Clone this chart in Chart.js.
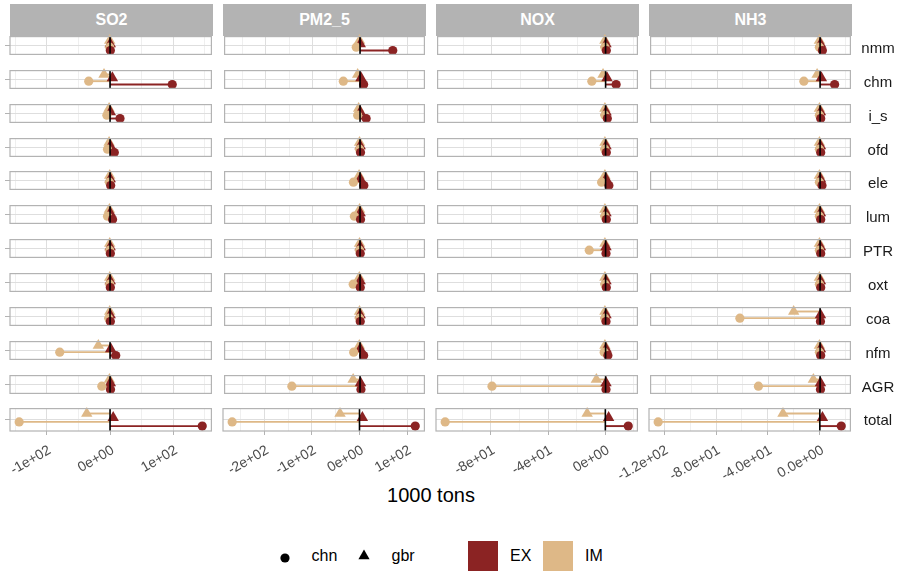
<!DOCTYPE html>
<html lang="en">
<head>
<meta charset="UTF-8">
<title>Emissions embodied in trade by sector</title>
<script src="https://cdn.jsdelivr.net/npm/chart.js"></script>
<style>
  body { margin: 0; background: #fff; font-family: 'Liberation Sans', Arial, sans-serif; }
  #fig { position: relative; width: 902px; height: 572px; overflow: hidden; }
  #fig canvas { position: absolute; }
  .strip { position: absolute; top: 4px; height: 32px; width: 203px; background: #b3b3b3; color: #fff;
           font-weight: bold; font-size: 16px; display: flex; align-items: center; justify-content: center; }
  .rowlab { position: absolute; left: 854px; width: 48px; text-align: center; font-size: 15px;
            color: #1a1a1a; line-height: 23px; }
  .xtitle { position: absolute; left: 10px; width: 842px; top: 484px; text-align: center; font-size: 20px; color: #000; }
  .lg { position: absolute; font-size: 16px; color: #000; line-height: 20px; top: 546px; }
  .key { position: absolute; }
</style>
</head>
<body>
<div id="fig"></div>
<script>
// categories
const pollutants = ['SO2', 'PM2_5', 'NOX', 'NH3'];
const sectors = ['nmm', 'chm', 'i_s', 'ofd', 'ele', 'lum', 'PTR', 'oxt', 'coa', 'nfm', 'AGR', 'total'];

// values in 1000 tons, one per sector (same order as sectors)
const so2ChnEX = [0.5, 98.4, 15.8, 6.8, 1, 4, 0.5, 0.5, 0.5, 9, 0.7, 145.8];
const so2ChnIM = [-0.5, -33.7, -5, -4, -1, -4, -0.5, -0.5, -2, -79.5, -13, -143.7];
const so2GbrEX = [0.3, 3.7, 0.5, 0.5, 0.3, 0.3, 0.2, 0.3, 0.2, 1, 0.5, 5];
const so2GbrIM = [-0.5, -9.5, -1.5, -1.5, -0.5, -1, -0.5, -0.5, -0.5, -18.5, -1, -36.8];

const pm25ChnEX = [69.4, 7.6, 13, 1, 8, 1, 0.5, 0.5, 0.5, 7.6, 2, 117.3];
const pm25ChnIM = [-8, -35.4, -5, -1, -14, -12, -1, -14.5, -1, -13.5, -144.6, -268];
const pm25GbrEX = [0.5, 2, 0.5, 0.3, 0.5, 0.3, 0.3, 0.3, 0.3, 0.5, 1, 6];
const pm25GbrIM = [-1, -5, -3, -1, -2, -1, -1, -1.5, -1, -1.5, -14.6, -41];

const noxChnEX = [0.5, 7.4, 1.2, 0.5, 2.3, 0.5, 0.3, 0.5, 0.3, 1.6, 0.3, 16];
const noxChnIM = [-0.5, -9.7, -0.5, -0.5, -2.8, -0.5, -11.5, -0.5, -0.5, -1, -80, -111.9];
const noxGbrEX = [0.3, 1, 0.3, 0.3, 0.3, 0.3, 0.3, 0.3, 0.3, 0.3, 0.3, 2.3];
const noxGbrIM = [-0.5, -1.8, -0.5, -0.5, -0.5, -0.5, -0.5, -0.5, -0.5, -0.5, -6.5, -12.7];

const nh3ChnEX = [1.8, 11.3, 0.5, 0.5, 1.5, 0.5, 0.5, 0.5, 0.3, 0.5, 0.3, 16.5];
const nh3ChnIM = [-0.5, -12.6, -0.5, -0.5, -0.5, -0.5, -0.5, -0.5, -62.3, -0.5, -47.9, -124.6];
const nh3GbrEX = [0.3, 1, 0.3, 0.3, 0.3, 0.3, 0.3, 0.3, 0.3, 0.3, 0.3, 2];
const nh3GbrIM = [-0.5, -2.3, -0.5, -0.5, -0.5, -0.5, -0.5, -0.5, -20.5, -0.5, -5.2, -28.4];

// x axis breaks and labels
const so2Major = [-100, 0, 100];
const so2Labels = ['-1e+02', '0e+00', '1e+02'];
const so2Minor = [-150, -50, 50, 150];
const pm25Major = [-200, -100, 0, 100];
const pm25Labels = ['-2e+02', '-1e+02', '0e+00', '1e+02'];
const pm25Minor = [-250, -150, -50, 50];
const noxMajor = [-80, -40, 0];
const noxLabels = ['-8e+01', '-4e+01', '0e+00'];
const noxMinor = [-100, -60, -20, 20];
const nh3Major = [-120, -80, -40, 0];
const nh3Labels = ['-1.2e+02', '-8.0e+01', '-4.0e+01', '0.0e+00'];
const nh3Minor = [-100, -60, -20, 20];

const table = {
  SO2:   { chn: { EX: so2ChnEX, IM: so2ChnIM }, gbr: { EX: so2GbrEX, IM: so2GbrIM }, major: so2Major, labels: so2Labels, minor: so2Minor },
  PM2_5: { chn: { EX: pm25ChnEX, IM: pm25ChnIM }, gbr: { EX: pm25GbrEX, IM: pm25GbrIM }, major: pm25Major, labels: pm25Labels, minor: pm25Minor },
  NOX:   { chn: { EX: noxChnEX, IM: noxChnIM }, gbr: { EX: noxGbrEX, IM: noxGbrIM }, major: noxMajor, labels: noxLabels, minor: noxMinor },
  NH3:   { chn: { EX: nh3ChnEX, IM: nh3ChnIM }, gbr: { EX: nh3GbrEX, IM: nh3GbrIM }, major: nh3Major, labels: nh3Labels, minor: nh3Minor }
};

const EX_COLOR = '#8B2323';
const IM_COLOR = '#DEB887';
const GRID = '#dedede';
const FRAME = '#b3b3b3';
const FONT = "'Liberation Sans', Arial, sans-serif";

// dodge slots inside a panel (0 = top, 1 = bottom) and draw order (lower = on top)
const seriesDefs = [
  { country: 'gbr', flow: 'IM', slot: 0.219, order: 4 },
  { country: 'gbr', flow: 'EX', slot: 0.406, order: 3 },
  { country: 'chn', flow: 'IM', slot: 0.594, order: 2 },
  { country: 'chn', flow: 'EX', slot: 0.781, order: 1 }
];

// panel geometry
const PX0 = 10, PDX = 213, PW = 203;
const PY0 = 36, PDY = 33.85, PH = 23;

const fig = document.getElementById('fig');

const frame = {
  id: 'frame',
  afterDraw(chart) {
    const a = chart.chartArea, c = chart.ctx;
    c.save();
    c.strokeStyle = FRAME;
    c.lineWidth = 1.2;
    c.strokeRect(a.left, a.top, a.right - a.left, a.bottom - a.top);
    c.restore();
  }
};

pollutants.forEach((p, c) => {
  const d = table[p];
  const all = [0, ...d.chn.EX, ...d.chn.IM, ...d.gbr.EX, ...d.gbr.IM];
  const lo = Math.min(...all), hi = Math.max(...all);
  const ext = 0.05 * (hi - lo);
  const breaks = [...d.major, ...d.minor].sort((a, b) => a - b);
  const isMajor = v => d.major.indexOf(v) >= 0;

  // column strip
  const strip = document.createElement('div');
  strip.className = 'strip';
  strip.style.left = (PX0 + c * PDX) + 'px';
  strip.textContent = p;
  fig.appendChild(strip);

  sectors.forEach((s, r) => {
    const last = r === sectors.length - 1;
    const yW = c === 0 ? 5 : 0;
    const xH = last ? 50 : 0;
    const pad = { left: last ? 60 : 5, right: 5, top: 6, bottom: 2 };
    const px = PX0 + c * PDX;
    const py = Math.round(PY0 + r * PDY);

    const cv = document.createElement('canvas');
    cv.width = pad.left + yW + PW + pad.right;
    cv.height = pad.top + PH + xH + pad.bottom;
    cv.style.left = (px - yW - pad.left) + 'px';
    cv.style.top = (py - pad.top) + 'px';
    fig.appendChild(cv);

    const datasets = [{
      data: [{ x: 0, y: 0 }, { x: 0, y: 1 }],
      showLine: true, borderColor: '#000', borderWidth: 1.6, pointRadius: 0, order: 0, clip: false
    }];
    seriesDefs.forEach(sd => {
      const v = d[sd.country][sd.flow][r];
      const col = sd.flow === 'EX' ? EX_COLOR : IM_COLOR;
      datasets.push({
        data: [{ x: 0, y: sd.slot }, { x: v, y: sd.slot }],
        showLine: true, borderColor: col, borderWidth: 1.9, pointRadius: 0, order: 10, clip: false
      });
      datasets.push({
        data: [{ x: v, y: sd.slot }],
        pointStyle: sd.country === 'chn' ? 'circle' : 'triangle',
        pointRadius: sd.country === 'chn' ? 4.6 : 6.6,
        backgroundColor: col, borderWidth: 0, pointBorderWidth: 0,
        order: sd.order, clip: false
      });
    });

    new Chart(cv, {
      type: 'scatter',
      data: { datasets },
      plugins: [frame],
      options: {
        responsive: false,
        animation: false,
        events: [],
        layout: { padding: pad },
        plugins: { legend: { display: false }, tooltip: { enabled: false } },
        scales: {
          x: {
            type: 'linear', bounds: 'data', min: lo - ext, max: hi + ext,
            afterBuildTicks: sc => { sc.ticks = breaks.map(v => ({ value: v })); },
            afterFit: sc => { sc.height = xH; sc.paddingLeft = 0; sc.paddingRight = 0; },
            border: { display: false },
            grid: {
              color: GRID,
              lineWidth: ctx => (ctx.tick && isMajor(ctx.tick.value)) ? 1 : 0.5,
              drawTicks: last, tickLength: 4,
              tickColor: ctx => (ctx.tick && isMajor(ctx.tick.value)) ? FRAME : 'rgba(0,0,0,0)',
              tickWidth: 1
            },
            ticks: {
              display: last, autoSkip: false, minRotation: 30, maxRotation: 30, padding: 7, labelOffset: 3,
              color: '#4d4d4d', font: { size: 14, family: FONT },
              callback: v => { const i = d.major.indexOf(v); return i >= 0 ? d.labels[i] : ''; }
            }
          },
          y: {
            type: 'linear', bounds: 'data', min: 0, max: 1, reverse: true,
            afterBuildTicks: sc => { sc.ticks = [{ value: 0.5 }]; },
            afterFit: sc => { sc.width = yW; },
            border: { display: false },
            grid: { color: GRID, lineWidth: 1, drawTicks: c === 0, tickLength: 5, tickColor: FRAME },
            ticks: { display: false }
          }
        }
      }
    });

    if (c === pollutants.length - 1) {
      const lab = document.createElement('div');
      lab.className = 'rowlab';
      lab.style.top = py + 'px';
      lab.textContent = s;
      fig.appendChild(lab);
    }
  });
});

// axis title
const xt = document.createElement('div');
xt.className = 'xtitle';
xt.textContent = '1000 tons';
fig.appendChild(xt);

// legend
function addKey(html, left, top) {
  const k = document.createElement('div');
  k.className = 'key';
  k.style.left = left + 'px';
  k.style.top = top + 'px';
  k.innerHTML = html;
  fig.appendChild(k);
}
function addText(t, left) {
  const e = document.createElement('div');
  e.className = 'lg';
  e.style.left = left + 'px';
  e.textContent = t;
  fig.appendChild(e);
}
addKey('<svg width="12" height="12"><circle cx="6" cy="6" r="4.6" fill="#000"/></svg>', 278.5, 550);
addText('chn', 311.5);
addKey('<svg width="16" height="14"><polygon points="8,0.5 13.6,10.2 2.4,10.2" fill="#000"/></svg>', 356.3, 549);
addText('gbr', 391.5);
addKey('<div style="width:30px;height:30px;background:' + EX_COLOR + '"></div>', 468, 541);
addText('EX', 510);
addKey('<div style="width:30px;height:30px;background:' + IM_COLOR + '"></div>', 543, 541);
addText('IM', 585);
</script>
</body>
</html>
